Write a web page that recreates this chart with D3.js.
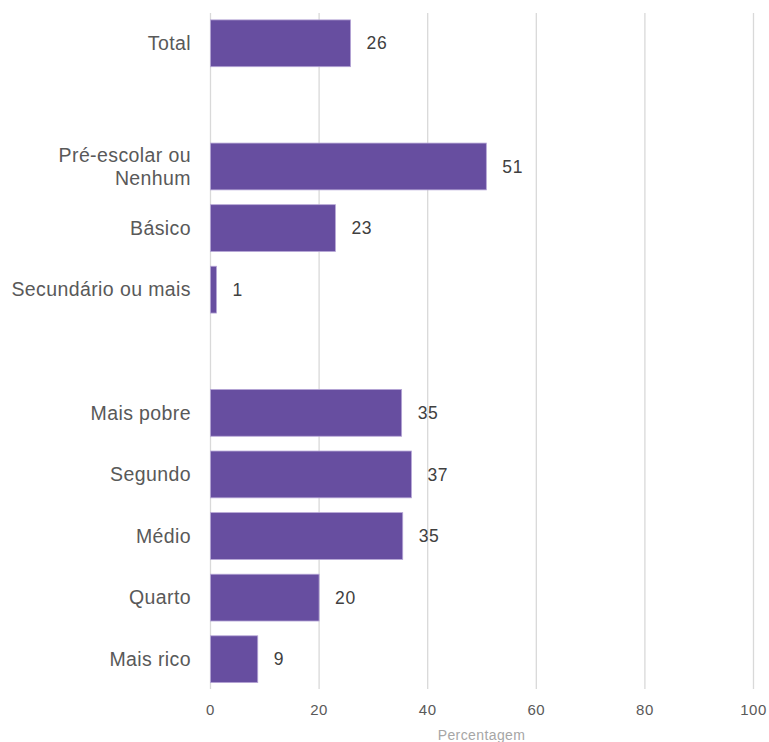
<!DOCTYPE html>
<html><head><meta charset="utf-8">
<script src="https://cdn.jsdelivr.net/npm/d3@7"></script>
<style>body{margin:0;background:#fff}svg{display:block}</style>
</head><body>
<script>
const categories = ["Total", "", "Pré-escolar ou|Nenhum", "Básico", "Secundário ou mais", " ", "Mais pobre", "Segundo", "Médio", "Quarto", "Mais rico"];
const values = [25.8, null, 50.8, 23.0, 1.1, null, 35.2, 37.0, 35.4, 20.0, 8.7];
const xTicks = [0, 20, 40, 60, 80, 100];
const xTitle = "Percentagem";

const W = 769, H = 742;
const svg = d3.select("body").append("svg").attr("width", W).attr("height", H);
const font = "'Liberation Sans', Arial, sans-serif";

const x = d3.scaleLinear().domain([0, 100]).range([210.5, 753.5]);
const y = d3.scaleBand().domain(categories).range([12.5, 690]).paddingInner(0.24).paddingOuter(0.12);

// gridlines
svg.append("g").selectAll("line").data(xTicks).join("line")
  .attr("x1", d => x(d)).attr("x2", d => x(d))
  .attr("y1", 13).attr("y2", 689)
  .attr("stroke", "#d9d9d9").attr("stroke-width", 1.3);

const data = categories.map((c, i) => ({c, v: values[i]})).filter(d => d.v != null);

svg.append("g").selectAll("rect").data(data).join("rect")
  .attr("x", x(0)).attr("y", d => y(d.c))
  .attr("width", d => x(d.v) - x(0)).attr("height", y.bandwidth())
  .attr("fill", "#674ea0").attr("stroke", "#b6a6d6").attr("stroke-width", 0.8);

// value labels
svg.append("g").selectAll("text").data(data).join("text")
  .attr("x", d => x(d.v) + 16).attr("y", d => y(d.c) + y.bandwidth() / 2)
  .attr("dy", "0.35em").attr("font-family", font).attr("font-size", 17.5)
  .attr("letter-spacing", 0.6)
  .attr("fill", "#404040").text(d => d3.format(".0f")(d.v));

// category labels
const cl = svg.append("g").selectAll("text").data(data).join("text")
  .attr("x", 191).attr("y", d => y(d.c) + y.bandwidth() / 2)
  .attr("text-anchor", "end").attr("font-family", font).attr("font-size", 19.5)
  .attr("letter-spacing", 0.4)
  .attr("fill", "#595959");
cl.each(function(d) {
  const lines = d.c.split("|");
  const t = d3.select(this);
  lines.forEach((l, i) => {
    t.append("tspan").attr("x", 191)
      .attr("dy", i === 0 ? (0.35 - (lines.length - 1) * 0.6) + "em" : "1.2em")
      .text(l);
  });
});

// x tick labels
svg.append("g").selectAll("text").data(xTicks).join("text")
  .attr("x", d => x(d)).attr("y", 710).attr("dy", "0.35em")
  .attr("text-anchor", "middle").attr("font-family", font).attr("font-size", 15)
  .attr("letter-spacing", 0.5)
  .attr("fill", "#595959").text(d => d);

svg.append("text").attr("x", (x(0) + x(100)) / 2 - 0.5).attr("y", 735).attr("dy", "0.35em")
  .attr("text-anchor", "middle").attr("font-family", font).attr("font-size", 14)
  .attr("letter-spacing", 0.4)
  .attr("fill", "#a6a6a6").text(xTitle);
</script>
</body></html>
